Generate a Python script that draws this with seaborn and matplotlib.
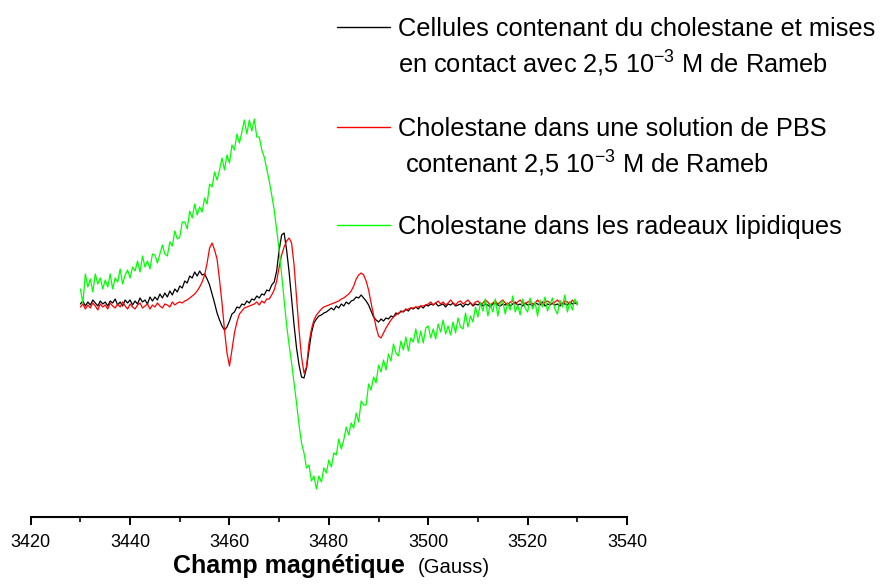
import numpy as np
import pandas as pd
import matplotlib
matplotlib.use("Agg")
import matplotlib.pyplot as plt
from matplotlib.lines import Line2D
import seaborn as sns

# ---- data (arbitrary EPR signal units) ----
field = np.arange(3430, 3530.01, 0.5)  # Gauss, sampling grid

cells = [1, 4, -1, 3, 0, 5, 2, -1, 4, 1,
         3, -1, 4, 2, 6, 0, 3, -1, 5, 2,
         5, 0, 4, 1, 7, 3, 5, 1, 8, 4,
         8, 5, 11, 7, 12, 8, 14, 10, 16, 13,
         19, 17, 24, 22, 29, 27, 33, 29, 34, 30,
         31, 26, 20, 11, 2, -8, -15, -21, -25, -22,
         -16, -9, -7, -2, -3, 1, 0, 4, 2, 6,
         5, 9, 7, 11, 10, 15, 14, 20, 23, 34,
         55, 70, 72, 55, 33, 7, -20, -43, -60, -72,
         -73, -63, -45, -28, -18, -14, -11, -10, -8, -7,
         -5, -3, -5, -1, -3, 1, -1, 3, 1, 4,
         5, 8, 7, 10, 7, 4, 0, -6, -12, -15,
         -17, -14, -16, -13, -14, -11, -12, -8, -9, -6,
         -7, -4, -6, -3, -4, -2, -4, -1, -3, 0,
         -1, 1, 0, 2, -1, 0, 1, -2, 1, 0,
         2, -1, 0, 1, -2, 1, 0, 2, -1, 1,
         0, 2, -1, 1, 0, -2, 1, 2, 0, -1,
         1, 0, 2, -1, 1, 3, 0, 1, -1, 2,
         0, 1, -1, 2, 1, 0, 3, -1, 1, 0,
         2, 0, 1, -1, 2, 1, 0, 3, 1, 2,
         1]

pbs = [-2, 1, -4, 0, -3, 2, -1, -5, 1, -2,
       0, -4, 2, -1, -3, 1, -2, 3, -1, -4,
       1, -2, -4, 0, 2, -3, -1, 1, -4, 0,
       -2, 2, -1, -3, 1, 0, -2, 3, 0, 2,
       3, 2, 4, 5, 7, 9, 11, 14, 18, 23,
       30, 42, 57, 62, 55, 46, 25, 2, -25, -48,
       -61, -45, -28, -17, -9, -6, -3, -2, -1, 0,
       1, 3, 0, 4, 2, 6, 6, 10, 15, 24,
       38, 50, 58, 64, 67, 62, 40, 8, -25, -52,
       -68, -62, -38, -24, -15, -10, -7, -4, -2, -1,
       0, 1, 2, 3, 4, 6, 7, 9, 11, 14,
       19, 26, 30, 32, 30, 24, 15, 2, -10, -22,
       -31, -33, -28, -23, -19, -15, -12, -10, -8, -7,
       -6, -5, -4, -3, -3, -2, -2, -1, -1, 0,
       1, 3, 0, 2, 4, 1, 3, 0, 2, 5,
       2, 0, 3, 4, 1, 3, 5, 2, 0, 3,
       4, 1, 2, 5, 3, 0, 2, 4, 1, 3,
       5, 2, 0, 3, 4, 1, 3, 5, 2, 1,
       3, 4, 1, 2, 5, 2, 0, 3, 4, 2,
       1, 3, 5, 2, 0, 4, 3, 1, 5, 2,
       3]

rafts = [16, 2, 31, 18, 26, 13, 31, 21, 27, 16,
         25, 18, 31, 16, 27, 23, 36, 21, 30, 35,
         27, 38, 34, 44, 33, 49, 38, 44, 36, 51,
         50, 42, 51, 60, 51, 49, 63, 59, 74, 66,
         68, 83, 83, 76, 94, 87, 101, 90, 98, 93,
         107, 101, 121, 118, 133, 125, 135, 147, 135, 150,
         142, 160, 155, 171, 162, 173, 185, 171, 185, 174,
         186, 168, 168, 155, 148, 136, 124, 110, 95, 75,
         55, 30, 5, -20, -40, -58, -78, -98, -120, -138,
         -148, -163, -160, -176, -171, -184, -171, -177, -163, -168,
         -155, -162, -148, -150, -134, -144, -135, -122, -130, -118,
         -123, -108, -117, -96, -100, -100, -79, -85, -72, -78,
         -60, -67, -55, -65, -49, -56, -39, -48, -51, -36,
         -45, -32, -46, -33, -37, -24, -38, -26, -38, -23,
         -21, -33, -24, -34, -19, -27, -15, -29, -21, -30,
         -17, -28, -13, -22, -24, -8, -22, -11, -17, -2,
         -12, 2, -6, 6, -11, 1, -7, 6, -11, 2,
         4, -9, 2, -5, 9, -7, 0, -10, 6, -3,
         -7, 7, -4, 3, -11, 5, -2, 8, -6, 1,
         7, -4, -9, 5, -2, 10, -7, 3, -5, 6,
         0]

series_names = ["cells", "pbs", "rafts"]
series_colors = ["#000000", "#ff0000", "#00ff00"]
legend_lines = [
    ["Cellules contenant du cholestane et mises",
     "en contact avec 2,5 10$^{-3}$ M de Rameb"],
    ["Cholestane dans une solution de PBS",
     " contenant 2,5 10$^{-3}$ M de Rameb"],
    ["Cholestane dans les radeaux lipidiques"],
]
xticks_major = [3420, 3440, 3460, 3480, 3500, 3520, 3540]

# ---- style ----
sns.set_style("white")
plt.rcParams["font.family"] = ["Liberation Sans", "DejaVu Sans"]
plt.rcParams["mathtext.fontset"] = "custom"
plt.rcParams["mathtext.rm"] = "Liberation Sans"
plt.rcParams["mathtext.default"] = "regular"
plt.rcParams["text.color"] = "black"
plt.rcParams["xtick.color"] = "black"
plt.rcParams["xtick.labelcolor"] = "black"

df = pd.DataFrame({
    "field": np.concatenate([field] * 3),
    "signal": np.concatenate([cells, pbs, rafts]),
    "series": np.repeat(series_names, len(field)),
})

fig = plt.figure(figsize=(8.8, 5.88), dpi=100)
ax = fig.add_axes([30.7 / 880, 71 / 588, 596.3 / 880, 517 / 588])

for name, col in zip(series_names, series_colors):
    sub = df[df["series"] == name]
    sns.lineplot(data=sub, x="field", y="signal", color=col, lw=0.9,
                 estimator=None, sort=False, ax=ax, legend=False)

ax.set_xlim(3420, 3540)
ax.set_ylim(-212, 305)
ax.set_xticks(xticks_major)
ax.set_xticks(np.arange(3430, 3540, 20), minor=True)
ax.set_yticks([])
ax.set_xlabel("")
ax.set_ylabel("")
for s in ["top", "right", "left"]:
    ax.spines[s].set_visible(False)
ax.spines["bottom"].set_color("black")
ax.spines["bottom"].set_linewidth(1.5)
ax.tick_params(axis="x", which="major", direction="out", length=6, width=1.4,
               color="black", labelcolor="black", labelsize=13, pad=6,
               bottom=True)
ax.tick_params(axis="x", which="minor", direction="out", length=3.5, width=1.2,
               color="black", bottom=True)

# x-axis title
fig.text(405 / 880, 1 - 573 / 588, "Champ magnétique", fontsize=18,
         fontweight="bold", ha="right", va="baseline", color="black")
fig.text(418 / 880, 1 - 573 / 588, "(Gauss)", fontsize=14.6, ha="left",
         va="baseline", color="black")

# legend drawn manually (handle aligned with first text line)
handle_y = [27, 127, 225]
for col, lines, hy in zip(series_colors, legend_lines, handle_y):
    fy = 1 - hy / 588
    fig.add_artist(Line2D([337 / 880, 390 / 880], [fy, fy], color=col,
                          lw=1.0, transform=fig.transFigure))
    for i, t in enumerate(lines):
        base = hy + 9 + i * 37
        fig.text(398 / 880, 1 - base / 588, t, fontsize=18.3, ha="left",
                 va="baseline", color="black")

fig.savefig("out.png", dpi=100)
